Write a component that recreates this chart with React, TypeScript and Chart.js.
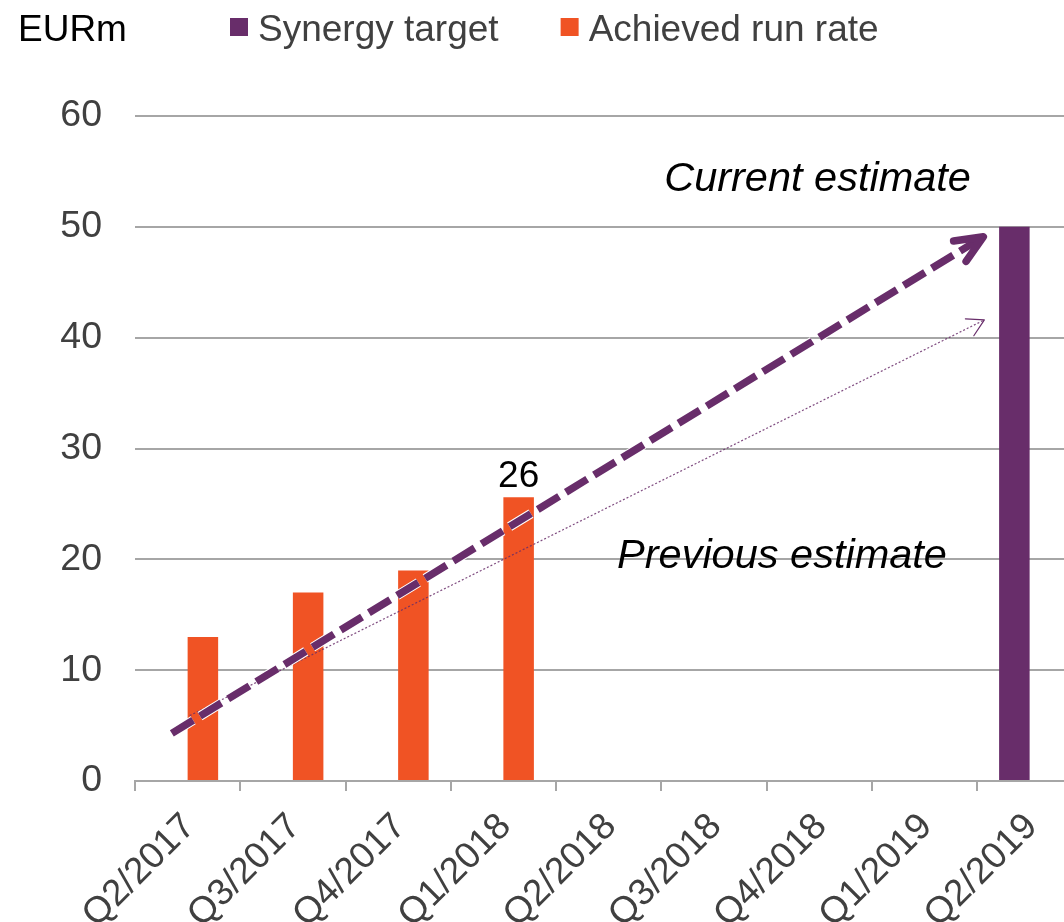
import React, { useEffect, useRef } from "react";
import { Chart, registerables } from "chart.js";

Chart.register(...registerables);

// ---- data ----
const categories = ["Q2/2017", "Q3/2017", "Q4/2017", "Q1/2018", "Q2/2018", "Q3/2018", "Q4/2018", "Q1/2019", "Q2/2019"];
const synergyTarget = [null, null, null, null, null, null, null, null, 50];
const achievedRunRate = [13, 17, 19, 25.6, null, null, null, null, null];
const achievedLabelIndexes = [3];
const yTicks = [0, 10, 20, 30, 40, 50, 60];
const unitLabel = "EURm";
const seriesNames = ["Synergy target", "Achieved run rate"];
// arrows in data coordinates (x = category index, y = EURm)
const currentEstimateArrow = [{ x: -0.15, y: 4.3 }, { x: 7.56, y: 49.1 }];
const previousEstimateArrow = [{ x: 0.02, y: 5.9 }, { x: 7.57, y: 41.6 }];
const annotationTexts = [
  { text: "Current estimate", x: 5.985, y: 53.2 },
  { text: "Previous estimate", x: 5.647, y: 19.2 },
];

const PURPLE = "#682D6A";
const ORANGE = "#F05324";
const GRID = "#A6A6A6";
const TEXT = "#404040";
const FONT = "'Liberation Sans', Arial, sans-serif";

const CANVAS_W = 1100;
const CANVAS_H = 922;

const annotationPlugin = {
  id: "annotations",
  afterDatasetsDraw(chart: any) {
    const { ctx, scales } = chart;
    const xs = scales.x;
    const ys = scales.y;
    const toPx = (p: { x: number; y: number }) => ({ x: xs.getPixelForValue(p.x), y: ys.getPixelForValue(p.y) });

    const drawHead = (a: any, b: any, len: number, spread: number, width: number) => {
      const ang = Math.atan2(b.y - a.y, b.x - a.x);
      ctx.save();
      ctx.setLineDash([]);
      ctx.lineWidth = width;
      ctx.lineCap = "round";
      ctx.lineJoin = "round";
      ctx.strokeStyle = PURPLE;
      ctx.beginPath();
      ctx.moveTo(b.x + len * Math.cos(ang + Math.PI - spread), b.y + len * Math.sin(ang + Math.PI - spread));
      ctx.lineTo(b.x, b.y);
      ctx.lineTo(b.x + len * Math.cos(ang + Math.PI + spread), b.y + len * Math.sin(ang + Math.PI + spread));
      ctx.stroke();
      ctx.restore();
    };

    // previous estimate (thin dotted)
    {
      const a = toPx(previousEstimateArrow[0]);
      const b = toPx(previousEstimateArrow[1]);
      ctx.save();
      ctx.strokeStyle = "rgba(104,45,106,0.85)";
      ctx.lineWidth = 1.2;
      ctx.setLineDash([2, 2]);
      ctx.beginPath();
      ctx.moveTo(a.x, a.y);
      ctx.lineTo(b.x, b.y);
      ctx.stroke();
      ctx.restore();
      drawHead(a, b, 19, 0.52, 1.2);
    }

    // current estimate (thick dashed)
    {
      const a = toPx(currentEstimateArrow[0]);
      const b = toPx(currentEstimateArrow[1]);
      const ang = Math.atan2(b.y - a.y, b.x - a.x);
      const end = { x: b.x - 4 * Math.cos(ang), y: b.y - 4 * Math.sin(ang) };
      ctx.save();
      ctx.lineCap = "butt";
      ctx.setLineDash([25, 8]);
      ctx.strokeStyle = "#ffffff";
      ctx.lineWidth = 9.5;
      ctx.beginPath();
      ctx.moveTo(a.x, a.y);
      ctx.lineTo(end.x, end.y);
      ctx.stroke();
      ctx.strokeStyle = PURPLE;
      ctx.lineWidth = 7.5;
      ctx.beginPath();
      ctx.moveTo(a.x, a.y);
      ctx.lineTo(end.x, end.y);
      ctx.stroke();
      ctx.restore();
      drawHead(a, b, 30, 0.41, 7.5);
    }

    // annotation texts
    ctx.save();
    ctx.fillStyle = "#000000";
    ctx.font = `italic 41.5px ${FONT}`;
    ctx.textAlign = "center";
    ctx.textBaseline = "alphabetic";
    annotationTexts.forEach((t) => {
      ctx.fillText(t.text, xs.getPixelForValue(t.x), ys.getPixelForValue(t.y));
    });
    ctx.restore();

    // data labels
    const meta = chart.getDatasetMeta(1);
    ctx.save();
    ctx.fillStyle = "#000000";
    ctx.font = `37px ${FONT}`;
    ctx.textAlign = "center";
    ctx.textBaseline = "alphabetic";
    achievedLabelIndexes.forEach((i) => {
      const el = meta.data[i];
      const v = achievedRunRate[i];
      if (el && v != null) ctx.fillText(String(Math.round(v)), el.x, el.y - 10);
    });
    ctx.restore();
  },
  afterDraw(chart: any) {
    const { ctx } = chart;
    ctx.save();
    ctx.textBaseline = "alphabetic";
    ctx.textAlign = "left";
    ctx.font = `37px ${FONT}`;
    ctx.fillStyle = "#000000";
    ctx.fillText(unitLabel, 18, 41);
    ctx.font = `37px ${FONT}`;
    let x = 230;
    chart.data.datasets.forEach((ds: any) => {
      ctx.fillStyle = ds.backgroundColor;
      ctx.fillRect(x, 18, 18, 18);
      ctx.fillStyle = TEXT;
      ctx.fillText(ds.label, x + 28, 41);
      x = x + 28 + ctx.measureText(ds.label).width + 62;
    });
    ctx.restore();
  },
};

export default function App() {
  const ref = useRef<HTMLCanvasElement | null>(null);

  useEffect(() => {
    if (!ref.current) return;
    const chart = new Chart(ref.current, {
      type: "bar",
      data: {
        labels: categories,
        datasets: [
          { label: seriesNames[0], data: synergyTarget, backgroundColor: PURPLE, categoryPercentage: 0.58, barPercentage: 1.0 },
          { label: seriesNames[1], data: achievedRunRate, backgroundColor: ORANGE, categoryPercentage: 0.58, barPercentage: 1.0 },
        ] as any,
      },
      options: {
        responsive: false,
        animation: false,
        layout: { padding: { top: 116, right: CANVAS_W - 1082.25, left: 0, bottom: 0 } },
        plugins: { legend: { display: false }, tooltip: { enabled: false } },
        scales: {
          x: {
            grid: { display: true, drawOnChartArea: false, drawTicks: true, tickLength: 10, color: GRID, lineWidth: 2, offset: true },
            border: { display: true, color: GRID, width: 2 },
            ticks: { minRotation: 45, maxRotation: 45, autoSkip: false, font: { family: FONT, size: 37 }, color: TEXT, padding: 14, labelOffset: 2 },
            afterFit(s: any) { s.height = 141; },
          },
          y: {
            min: 0,
            max: 60,
            afterBuildTicks(s: any) { s.ticks = yTicks.map((v) => ({ value: v })); },
            ticks: { padding: 33, font: { family: FONT, size: 37.5 }, color: TEXT },
            grid: { color: GRID, lineWidth: 2, drawTicks: false },
            border: { display: false },
            afterFit(s: any) { s.width = 135; },
          },
        },
      } as any,
      plugins: [annotationPlugin],
    });
    return () => chart.destroy();
  }, []);

  return (
    <div style={{ position: "fixed", left: 0, top: 0, width: 1064, height: 922, overflow: "hidden", background: "#fff" }}>
      <canvas ref={ref} width={CANVAS_W} height={CANVAS_H} style={{ display: "block", width: CANVAS_W, height: CANVAS_H }} />
    </div>
  );
}
